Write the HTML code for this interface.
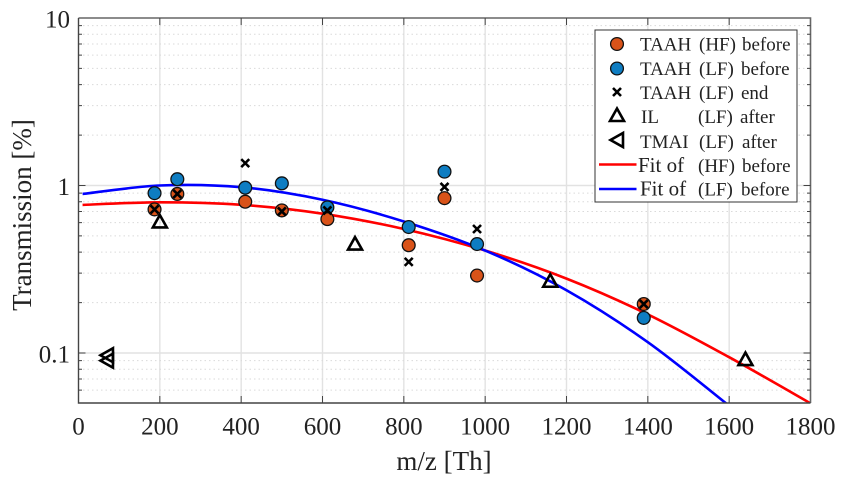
<!DOCTYPE html>
<html lang="en">
<head>
<meta charset="utf-8">
<title>Transmission vs m/z</title>
<style>
html,body{margin:0;padding:0;background:#fff;}
body{width:846px;height:484px;overflow:hidden;}
svg{display:block;filter:blur(0.3px);}
text{font-family:"Liberation Serif","Times New Roman",serif;fill:#222;}
</style>
</head>
<body>
<svg id="chart" width="846" height="484" viewBox="0 0 846 484" xmlns="http://www.w3.org/2000/svg">
  <defs><clipPath id="plot-clip"><rect x="78.5" y="18" width="732" height="385"/></clipPath></defs>
  <g id="grid"></g>
  <g id="fits" clip-path="url(#plot-clip)"></g>
  <g id="frame"></g>
  <g id="marks"></g>
  <g id="labels"></g>
  <text x="444" y="470" font-size="27" text-anchor="middle">m/z [Th]</text>
  <text transform="translate(31,215) rotate(-90)" font-size="27" text-anchor="middle">Transmission [%]</text>
  <g id="legend">
    <rect x="595" y="30" width="202" height="172" fill="#fff" stroke="#333" stroke-width="1"/>
  </g>
</svg>
<script>
const xTickValues = [0, 200, 400, 600, 800, 1000, 1200, 1400, 1600, 1800];
const yMajorValues = [0.1, 1, 10];
const yTickLabels = ['0.1', '1', '10'];
const yMinorValues = [0.06, 0.07, 0.08, 0.09, 0.2, 0.3, 0.4, 0.5, 0.6, 0.7, 0.8, 0.9, 2, 3, 4, 5, 6, 7, 8, 9];

const hfMz = [187, 243, 410, 500, 612, 812, 900, 980, 1390];
const hfBefore = [0.72, 0.89, 0.80, 0.71, 0.63, 0.44, 0.84, 0.29, 0.196];
const lfMz = [187, 243, 410, 500, 612, 812, 900, 980, 1390];
const lfBefore = [0.90, 1.09, 0.97, 1.03, 0.74, 0.565, 1.21, 0.447, 0.162];
const lfEndMz = [187, 243, 410, 500, 612, 812, 900, 980, 1390];
const lfEnd = [0.72, 0.89, 1.36, 0.70, 0.71, 0.35, 0.98, 0.55, 0.196];
const ilMz = [200, 680, 1160, 1640];
const ilAfter = [0.61, 0.45, 0.27, 0.092];
const tmaiMz = [70, 70];
const tmaiAfter = [0.097, 0.09];

const fitHfMz = [10, 200, 400, 600, 800, 1000, 1200, 1400, 1600, 1800];
const fitHf = [0.766, 0.794, 0.767, 0.679, 0.550, 0.409, 0.278, 0.170, 0.0944, 0.0501];
const fitLfMz = [10, 200, 400, 600, 800, 1000, 1200, 1400, 1600];
const fitLf = [0.89, 1.0, 0.977, 0.822, 0.610, 0.409, 0.237, 0.116, 0.0484];

const xScale = v => 78.5 + v * (732 / 1800);
const yScale = v => 185.5 - Math.log10(v) * 167.5;
const NS = 'http://www.w3.org/2000/svg';
function make(tag, attrs, parent) {
  const el = document.createElementNS(NS, tag);
  for (const k in attrs) el.setAttribute(k, attrs[k]);
  parent.appendChild(el);
  return el;
}
const grid = document.getElementById('grid');
const frame = document.getElementById('frame');
const labels = document.getElementById('labels');
const fits = document.getElementById('fits');
const marks = document.getElementById('marks');
const legend = document.getElementById('legend');
const L = 78.5, R = 810.5, T = 18, B = 403;

xTickValues.slice(1, -1).forEach(v => {
  const el = make('line', {x1: xScale(v), x2: xScale(v), y1: T, y2: B, stroke: '#e2e2e2', 'stroke-width': 1.4}, grid);
  
  
});
yMinorValues.forEach(v => {
  const el = make('line', {x1: L, x2: R, y1: yScale(v), y2: yScale(v), stroke: '#dadada', 'stroke-width': 1, 'stroke-dasharray': '1.5 3'}, grid);
  
  
});
yMajorValues.slice(0, 2).forEach(v => {
  const el = make('line', {x1: L, x2: R, y1: yScale(v), y2: yScale(v), stroke: '#e2e2e2', 'stroke-width': 1.4}, grid);
  
  
});

function curve(xs, ys, color, name) {
  let d = '';
  for (let i = 0; i < xs.length; i++) {
    const px = xScale(xs[i]), py = yScale(ys[i]);
    if (i === 0) { d += 'M' + px + ' ' + py; continue; }
    const i0 = Math.max(i - 2, 0), i1 = i - 1, i3 = Math.min(i + 1, xs.length - 1);
    const c1x = xScale(xs[i1]) + (xScale(xs[i]) - xScale(xs[i0])) / 6;
    const c1y = yScale(ys[i1]) + (yScale(ys[i]) - yScale(ys[i0])) / 6;
    const c2x = px - (xScale(xs[i3]) - xScale(xs[i1])) / 6;
    const c2y = py - (yScale(ys[i3]) - yScale(ys[i1])) / 6;
    d += 'C' + c1x + ' ' + c1y + ' ' + c2x + ' ' + c2y + ' ' + px + ' ' + py;
  }
  const el = make('path', {d: d, fill: 'none', stroke: color, 'stroke-width': 2.6}, fits);
  
  
}
curve(fitHfMz, fitHf, '#ff0000', 'fit-hf-before');
curve(fitLfMz, fitLf, '#0000ff', 'fit-lf-before');

make('path', {d: 'M' + L + ' ' + T + 'H' + R + 'V' + B, fill: 'none', stroke: '#666', 'stroke-width': 1.6}, frame);
make('path', {d: 'M' + L + ' ' + T + 'V' + B + 'H' + R, fill: 'none', stroke: '#444', 'stroke-width': 1.4}, frame);
xTickValues.slice(1, -1).forEach(v => {
  const x = xScale(v);
  const el = make('path', {d: 'M' + x + ' ' + T + 'v7M' + x + ' ' + B + 'v-7', stroke: '#444', 'stroke-width': 1, fill: 'none'}, frame);
  
  
});
yMajorValues.slice(0, 2).forEach(v => {
  const y = yScale(v);
  const el = make('path', {d: 'M' + L + ' ' + y + 'h7M' + R + ' ' + y + 'h-7', stroke: '#444', 'stroke-width': 1, fill: 'none'}, frame);
  
  
});
yMinorValues.forEach(v => {
  const y = yScale(v);
  const el = make('path', {d: 'M' + L + ' ' + y + 'h3.5M' + R + ' ' + y + 'h-3.5', stroke: '#444', 'stroke-width': 1, fill: 'none'}, frame);
  
  
});

xTickValues.forEach(v => {
  const el = make('text', {x: xScale(v), y: 434.5, 'font-size': 25, 'text-anchor': 'middle'}, labels);
  
  
  el.textContent = String(v);
});
yMajorValues.forEach((v, i) => {
  const el = make('text', {x: 70, y: yScale(v) + 9.5, 'font-size': 25, 'text-anchor': 'end'}, labels);
  
  
  el.textContent = yTickLabels[i];
});

function circle(cx, cy, fill, parent, name) {
  const el = make('circle', {cx: cx, cy: cy, r: 6.4, fill: fill, stroke: '#111', 'stroke-width': 1.3}, parent);
  
  
}
function cross(cx, cy, parent, name) {
  const s = 4;
  const el = make('path', {d: 'M' + (cx - s) + ' ' + (cy - s) + 'L' + (cx + s) + ' ' + (cy + s) + 'M' + (cx - s) + ' ' + (cy + s) + 'L' + (cx + s) + ' ' + (cy - s), stroke: '#000', 'stroke-width': 2.6, fill: 'none'}, parent);
  
  
}
function triUp(cx, cy, parent, name) {
  const el = make('path', {d: 'M' + cx + ' ' + (cy - 6.5) + 'L' + (cx + 7) + ' ' + (cy + 6) + 'H' + (cx - 7) + 'Z', stroke: '#000', 'stroke-width': 2.6, fill: 'none'}, parent);
  
  
}
function triLeft(cx, cy, parent, name) {
  const el = make('path', {d: 'M' + (cx - 6.5) + ' ' + cy + 'L' + (cx + 6) + ' ' + (cy - 7) + 'V' + (cy + 7) + 'Z', stroke: '#000', 'stroke-width': 2.6, fill: 'none'}, parent);
  
  
}
lfMz.forEach((m, i) => circle(xScale(m), yScale(lfBefore[i]), '#0e7dc2', marks, 'taah-lf-before-point'));
hfMz.forEach((m, i) => circle(xScale(m), yScale(hfBefore[i]), '#d95319', marks, 'taah-hf-before-point'));
lfEndMz.forEach((m, i) => cross(xScale(m), yScale(lfEnd[i]), marks, 'taah-lf-end-point'));
ilMz.forEach((m, i) => triUp(xScale(m), yScale(ilAfter[i]), marks, 'il-lf-after-point'));
tmaiMz.forEach((m, i) => triLeft(xScale(m), yScale(tmaiAfter[i]), marks, 'tmai-lf-after-point'));

const legendRows = [
  {y: 50.5, a: 'TAAH', ax: 640, as: 19, b: '(HF)', bx: 699, c: 'before', cx: 742},
  {y: 75, a: 'TAAH', ax: 640, as: 19, b: '(LF)', bx: 699, c: 'before', cx: 741},
  {y: 99, a: 'TAAH', ax: 640, as: 19, b: '(LF)', bx: 699, c: 'end', cx: 741},
  {y: 123, a: 'IL', ax: 641, as: 19, b: '(LF)', bx: 698, c: 'after', cx: 740},
  {y: 148, a: 'TMAI', ax: 640, as: 19, b: '(LF)', bx: 699, c: 'after', cx: 742},
  {y: 172, a: 'Fit of', ax: 638, as: 21, b: '(HF)', bx: 698, c: 'before', cx: 742},
  {y: 195.5, a: 'Fit of', ax: 640, as: 21, b: '(LF)', bx: 698, c: 'before', cx: 741}
];
legendRows.forEach(r => {
  [[r.a, r.ax, r.as], [r.b, r.bx, 19], [r.c, r.cx, 19]].forEach(p => {
    const el = make('text', {x: p[1], y: r.y, 'font-size': p[2]}, legend);
    
    
    el.textContent = p[0];
  });
});
circle(617, 44, '#d95319', legend, 'legend-hf-marker');
circle(617, 68.5, '#0e7dc2', legend, 'legend-lf-marker');
cross(617, 92, legend, 'legend-end-marker');
triUp(617, 115, legend, 'legend-il-marker');
triLeft(617, 140, legend, 'legend-tmai-marker');
const legendHf = make('line', {x1: 599, x2: 636.5, y1: 164.5, y2: 164.5, stroke: '#ff0000', 'stroke-width': 2.5}, legend);


const legendLf = make('line', {x1: 599, x2: 636.5, y1: 189, y2: 189, stroke: '#0000ff', 'stroke-width': 2.5}, legend);


</script>
</body>
</html>
